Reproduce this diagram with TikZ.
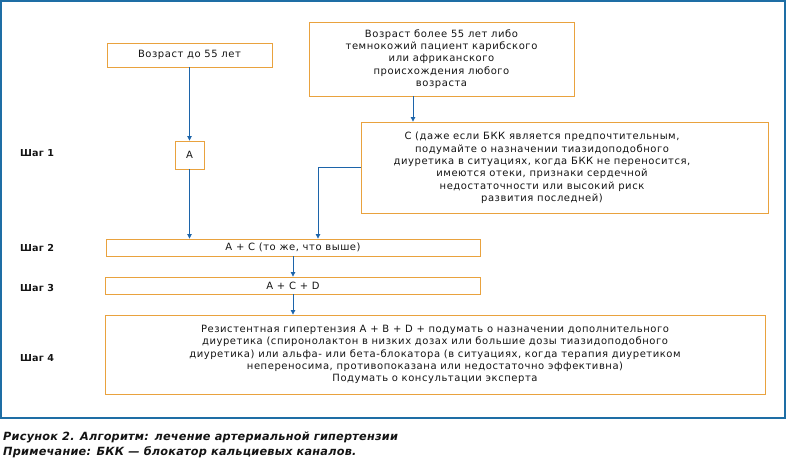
\documentclass[tikz,border=0pt]{standalone}
\usepackage{fontspec}
\setmainfont{DejaVu Sans}
\newfontfamily\boxfont{DejaVu Sans}[LetterSpace=5.5]
\newfontfamily\capfont{DejaVu Sans}[LetterSpace=2]
\usepackage{tikz}
\usetikzlibrary{arrows.meta, positioning}

\definecolor{framecol}{RGB}{30,110,165}
\definecolor{boxcol}{RGB}{233,162,62}
\definecolor{arrowcol}{RGB}{28,100,170}
\definecolor{textcol}{RGB}{20,20,20}

\begin{document}
\begin{tikzpicture}[
    x=1pt, y=-1pt,
    box/.style={draw=boxcol, line width=0.9pt, inner sep=0pt, align=center, text=textcol,
        font=\boxfont\fontsize{10}{12.3}\selectfont},
    steplabel/.style={anchor=west, inner sep=0pt, text=textcol, font=\capfont\bfseries\fontsize{9.6}{11}\selectfont},
    caption/.style={anchor=west, inner sep=0pt, text=textcol, font=\capfont\bfseries\itshape\fontsize{11.3}{13}\selectfont},
    arrow/.style={draw=arrowcol, line width=0.8pt, -{Triangle[length=4.5pt, width=4.5pt]}}
]
\useasboundingbox (0,0) rectangle (787,459);

% Frame
\draw[framecol, line width=1.4pt] (1,1) rectangle (785,418);

% Start boxes
\node[box, minimum width=165, minimum height=24] (young) at (189.5,55) {Возраст до 55 лет};
\node[box, minimum width=265, minimum height=74] (old) at (441.5,59)
    {Возраст более 55 лет либо\\темнокожий пациент карибского\\или африканского\\происхождения любого\\возраста};

% Step 1
\node[box, minimum width=29, minimum height=28] (a) at (189.5,155) {А};
\node[box, minimum width=407, minimum height=91] (cbox) at (564.5,167.5) {};
\node[text=textcol, align=center, inner sep=0pt, font=\boxfont\fontsize{10}{12.4}\selectfont] (ctext) at (542,168)
    {С (даже если БКК является предпочтительным,\\подумайте о назначении тиазидоподобного\\диуретика в ситуациях, когда БКК не переносится,\\имеются отеки, признаки сердечной\\недостаточности или высокий риск\\развития последней)};

% Steps 2-4
\node[box, minimum width=374, minimum height=17] (step2) at (293,247.5) {А + С (то же, что выше)};
\node[box, minimum width=375, minimum height=17] (step3) at (293,285.5) {А + С + D};
\node[box, minimum width=660, minimum height=79] (step4) at (435,354.5)
    {Резистентная гипертензия А + В + D + подумать о назначении дополнительного\\диуретика (спиронолактон в низких дозах или большие дозы тиазидоподобного\\диуретика) или альфа- или бета-блокатора (в ситуациях, когда терапия диуретиком\\непереносима, противопоказана или недостаточно эффективна)\\Подумать о консультации эксперта};

% Step labels
\node[steplabel] (s1) at (20,153) {Шаг 1};
\node[steplabel] (s2) at (20,248) {Шаг 2};
\node[steplabel] (s3) at (20,288) {Шаг 3};
\node[steplabel] (s4) at (20,358) {Шаг 4};

% Connections
\coordinate (oldout) at ([xshift=-28.5pt]old.south);
\coordinate (step2in) at ([xshift=25pt]step2.north);
\draw[arrow] (young) -- (a);
\draw[arrow] (a.south) -- (a.south |- step2.north);
\draw[arrow] (oldout) -- (oldout |- cbox.north);
\draw[arrow] (cbox.west) -| (step2in);
\draw[arrow] (step2) -- (step3);
\draw[arrow] (step3.south) -- (step3.south |- step4.north);

% Caption
\node[caption] (cap1) at (3,437) {Рисунок 2. Алгоритм: лечение артериальной гипертензии};
\node[caption] (cap2) at (3,452) {Примечание: БКК — блокатор кальциевых каналов.};

\end{tikzpicture}
\end{document}
